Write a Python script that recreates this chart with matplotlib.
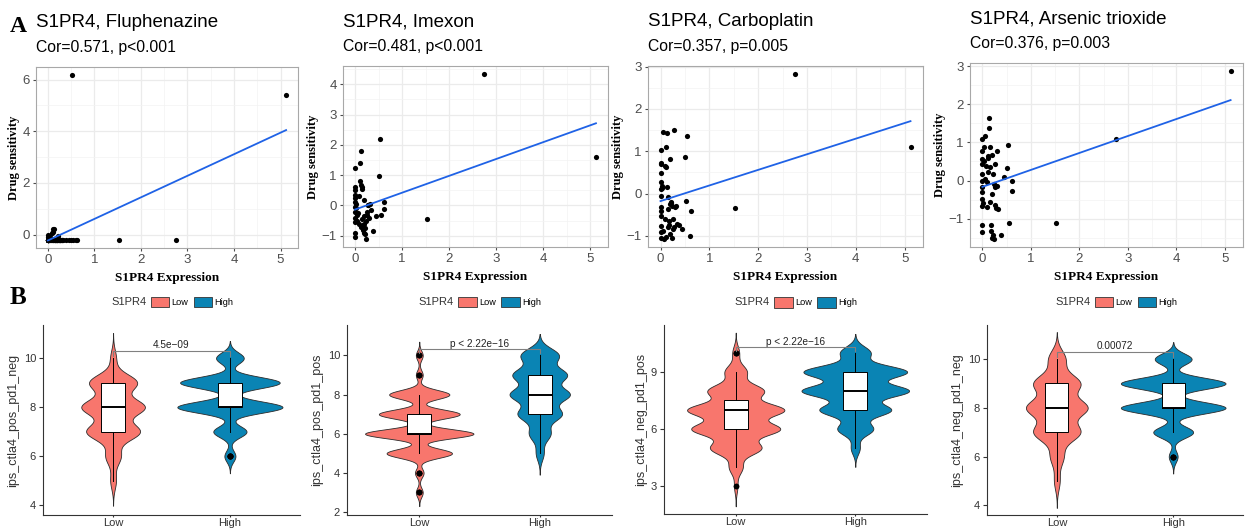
import numpy as np
import matplotlib.pyplot as plt
from matplotlib.patches import Patch
from matplotlib.ticker import MultipleLocator

plt.rcParams['font.family'] = ['Liberation Sans', 'DejaVu Sans']

W, H = 1256, 531

# ---- panel A: S1PR4 expression vs drug sensitivity ----
expr = [0.00, 0.00, 0.00, 0.00, 0.00, 0.00, 0.00, 0.00, 0.00, 0.00, 0.00, 0.00,
        0.02, 0.03, 0.04, 0.05, 0.06, 0.08, 0.09, 0.10, 0.11, 0.12,
        0.12, 0.13, 0.14, 0.15, 0.15, 0.16, 0.17, 0.18, 0.19, 0.20,
        0.20, 0.21, 0.22, 0.23, 0.24, 0.25, 0.26, 0.27, 0.28, 0.30,
        0.31, 0.33, 0.38, 0.45,
        0.50, 0.52, 0.55, 0.61, 0.62,
        1.52, 2.75, 5.12]

sens_fluphenazine = [0.0, -0.1, -0.2, -0.2, -0.2, -0.2, -0.2, -0.2, -0.2, -0.2, -0.2, -0.2,
                     -0.2, -0.2, -0.1, -0.2, -0.2, -0.2, 0.05, -0.2, 0.12, -0.2,
                     0.2, 0.22, -0.2, -0.2, -0.2, -0.2, -0.2, -0.2, -0.2, -0.2,
                     -0.2, -0.05, -0.2, -0.2, -0.2, -0.2, -0.2, -0.2, -0.2, -0.2,
                     -0.2, -0.2, -0.2, -0.2,
                     -0.2, 6.17, -0.2, -0.2, -0.2,
                     -0.2, -0.2, 5.4]
sens_imexon = [1.24, 0.6, 0.5, 0.35, 0.25, 0.1, -0.05, -0.2, -0.4, -0.55, -0.9, -1.04,
               -0.1, 0.05, -0.3, -0.5, -0.25, -0.6, 0.3, 0.8, 1.4, -0.7,
               1.79, 0.69, 0.6, 0.55, -0.45, -0.65, -0.8, 0.18, -0.35, -0.9,
               -0.6, -0.75, -0.95, -1.1, -0.5, -0.3, -0.2, 0.0, 0.03, -0.4,
               0.05, -0.15, -0.85, -0.35,
               0.96, 2.2, -0.32, -0.11, 0.13,
               -0.46, 4.33, 1.6]
sens_carboplatin = [1.04, 0.73, 0.49, 0.27, 0.1, -0.05, -0.33, -0.42, -0.52, -0.76, -0.91, -1.05,
                    0.7, 0.18, 0.12, 1.45, -0.88, -1.07, 0.65, -0.6, 1.09, 0.62,
                    -1.03, 1.43, 0.15, -0.09, -0.37, -0.8, -0.66, -0.75, -0.95, 0.82,
                    -0.25, -0.2, -0.23, -1.05, -0.3, -0.6, -0.84, -0.78, 1.5, -0.33,
                    -0.3, -0.72, -0.74, -0.85,
                    0.87, -0.18, 1.35, -1.0, -0.42,
                    -0.34, 2.82, 1.1]
sens_arsenic = [1.09, 0.78, 0.57, 0.43, 0.17, 0.0, -0.17, -0.3, -0.48, -0.67, -1.16, -1.35,
                -0.58, 0.87, 0.5, 1.17, 0.05, 0.39, -0.7, -0.03, 0.65, 0.22,
                0.6, 1.63, 1.39, 0.87, 0.35, -0.57, -1.17, -1.33, -1.5, -0.35,
                0.67, 0.17, -1.43, -0.1, -1.52, -0.65, 0.43, -0.17, -0.72, -0.13,
                0.78, -0.75, -1.43, 0.1,
                0.32, 0.94, -1.12, -0.02, -0.28,
                -1.1, 1.08, 2.86]

drug_titles = ["S1PR4, Fluphenazine", "S1PR4, Imexon", "S1PR4, Carboplatin", "S1PR4, Arsenic trioxide"]
cor_labels = ["Cor=0.571, p<0.001", "Cor=0.481, p<0.001", "Cor=0.357, p=0.005", "Cor=0.376, p=0.003"]
y_steps = [2, 1, 1, 1]

# ---- panel B: immunophenoscore counts per score level ----
ips_levels = [3, 4, 5, 6, 7, 8, 9, 10]
b1_low = [0, 0, 6, 16, 56, 66, 50, 6]
b1_high = [0, 0, 0, 8, 24, 76, 72, 20]
b2_low = [4, 5, 38, 63, 47, 35, 4, 4]
b2_high = [0, 0, 14, 38, 78, 106, 96, 68]
b3_low = [2, 8, 30, 52, 57, 33, 13, 4]
b3_high = [0, 0, 10, 40, 80, 120, 116, 34]
b4_low = [0, 0, 6, 14, 49, 64, 49, 18]
b4_high = [0, 0, 0, 6, 27, 71, 71, 25]
ips_names = ["ips_ctla4_pos_pd1_neg", "ips_ctla4_pos_pd1_pos", "ips_ctla4_neg_pd1_pos", "ips_ctla4_neg_pd1_neg"]
p_labels = ["4.5e\u221209", "p < 2.22e\u221216", "p < 2.22e\u221216", "0.00072"]
groups = ["Low", "High"]
group_colors = ["#F8766D", "#0A84B4"]

fig = plt.figure(figsize=(W / 100, H / 100), dpi=100)


def add_ax(l, t, r, b):
    return fig.add_axes([l / W, 1 - b / H, (r - l) / W, (b - t) / H])


top_boxes = [(36, 67, 298, 248), (343, 66, 608, 247), (648, 66, 923, 247), (970, 63, 1243, 247)]
bot_boxes = [(43, 325, 300, 515), (347, 325, 612, 515), (664, 325, 927, 514), (987, 325, 1243, 515)]
bot_ylims = [(3.6, 11.35), (1.85, 11.55), (1.55, 11.45), (3.6, 11.4)]

serif = 'Liberation Serif'
x = np.array(expr)
for i, sens in enumerate([sens_fluphenazine, sens_imexon, sens_carboplatin, sens_arsenic]):
    ax = add_ax(*top_boxes[i])
    y = np.array(sens)
    ax.scatter(x, y, s=14, color='black', zorder=3, linewidths=0)
    k, b0 = np.polyfit(x, y, 1)
    xs = np.array([x.min(), x.max()])
    ax.plot(xs, k * xs + b0, color='#1F62E6', lw=1.3, zorder=4)

    xr = x.max() - x.min()
    yr = y.max() - y.min()
    ax.set_xlim(x.min() - 0.05 * xr, x.max() + 0.05 * xr)
    ax.set_ylim(y.min() - 0.05 * yr, y.max() + 0.05 * yr)
    ax.xaxis.set_major_locator(MultipleLocator(1))
    ax.xaxis.set_minor_locator(MultipleLocator(0.5))
    ax.yaxis.set_major_locator(MultipleLocator(y_steps[i]))
    ax.yaxis.set_minor_locator(MultipleLocator(y_steps[i] / 2))
    ax.grid(True, which='major', color='#EBEBEB', lw=0.9)
    ax.grid(True, which='minor', color='#F3F3F3', lw=0.5)
    ax.set_axisbelow(True)
    for sp in ax.spines.values():
        sp.set_color('#A8A8A8')
        sp.set_linewidth(0.8)
    ax.tick_params(which='major', length=2.5, color='#4D4D4D', labelsize=9.5, labelcolor='#4D4D4D', pad=2)
    ax.tick_params(which='minor', length=0)
    ax.set_xlabel("S1PR4 Expression", family=serif, fontweight='bold', fontsize=9.5, labelpad=4)
    ax.set_ylabel("Drug sensitivity", family=serif, fontweight='bold', fontsize=9, labelpad=2)
    ax.annotate(drug_titles[i], xy=(0, 1), xycoords='axes fraction', xytext=(0, 32),
                textcoords='offset points', ha='left', va='center', fontsize=13.5)
    ax.annotate(cor_labels[i], xy=(0, 1), xycoords='axes fraction', xytext=(0, 14),
                textcoords='offset points', ha='left', va='center', fontsize=11.3)


def kde(data):
    data = np.asarray(data, float)
    n = len(data)
    q1, q3 = np.percentile(data, [25, 75])
    bw = 0.9 * min(data.std(ddof=1), (q3 - q1) / 1.34) * n ** -0.2
    grid = np.linspace(data.min() - 3 * bw, data.max() + 3 * bw, 512)
    dens = np.exp(-0.5 * ((grid[:, None] - data[None, :]) / bw) ** 2).sum(1) / (n * bw * np.sqrt(2 * np.pi))
    return grid, dens


bot_counts = [(b1_low, b1_high), (b2_low, b2_high), (b3_low, b3_high), (b4_low, b4_high)]
for i, (cl, ch) in enumerate(bot_counts):
    ax = add_ax(*bot_boxes[i])
    data = [np.repeat(ips_levels, cl).astype(float), np.repeat(ips_levels, ch).astype(float)]
    curves = [kde(d) for d in data]
    dmax = max(c[1].max() for c in curves)
    for j, (grid, dens) in enumerate(curves):
        w = 0.45 * dens / dmax
        ax.fill_betweenx(grid, j + 1 - w, j + 1 + w, facecolor=group_colors[j],
                         edgecolor='#2B2B2B', lw=0.6, zorder=2)
    ax.boxplot(data, positions=[1, 2], widths=0.2, patch_artist=True, showcaps=False,
               manage_ticks=False, zorder=3,
               boxprops=dict(facecolor='white', edgecolor='black', lw=0.7),
               medianprops=dict(color='black', lw=1.4),
               whiskerprops=dict(color='black', lw=0.7),
               flierprops=dict(marker='o', markerfacecolor='black', markeredgecolor='black', markersize=3))
    # comparison bracket
    top = max(d.max() for d in data) + 0.3
    ax.plot([1, 1, 2, 2], [top - 0.2, top, top, top - 0.2], color='#808080', lw=0.8, zorder=4)
    ax.text(1.5, top + 0.02, p_labels[i], ha='center', va='bottom', fontsize=7.2, color='#222222', zorder=5)

    ax.set_xlim(0.4, 2.6)
    ax.set_ylim(*bot_ylims[i])
    ax.set_xticks([1, 2])
    ax.set_xticklabels(groups)
    ax.yaxis.set_major_locator(MultipleLocator(2 if i != 2 else 3))
    for s in ['top', 'right']:
        ax.spines[s].set_visible(False)
    for s in ['left', 'bottom']:
        ax.spines[s].set_color('#333333')
        ax.spines[s].set_linewidth(0.8)
    ax.tick_params(length=3, color='#333333', labelsize=8, labelcolor='#333333', pad=2)
    ax.tick_params(axis='x', length=1.5, pad=0.5)
    ax.set_ylabel(ips_names[i], fontsize=9, color='#333333', labelpad=3)

    # legend on top
    ax.text(0.268, 1.12, "S1PR4", transform=ax.transAxes, ha='left', va='center', fontsize=8, color='#333333')
    handles = [Patch(facecolor=group_colors[j], edgecolor='#333333', lw=0.6) for j in range(2)]
    ax.legend(handles, groups, ncol=2, loc='center left', bbox_to_anchor=(0.42, 1.12), frameon=False,
              fontsize=6.6, handlelength=2.0, handleheight=1.4, handletextpad=0.25,
              columnspacing=0.6, borderpad=0, borderaxespad=0)

fig.text(10 / W, 1 - 26 / H, "A", family=serif, fontweight='bold', fontsize=17, va='center', ha='left')
fig.text(10 / W, 1 - 298 / H, "B", family=serif, fontweight='bold', fontsize=18, va='center', ha='left')

fig.savefig("out.png", dpi=100)
